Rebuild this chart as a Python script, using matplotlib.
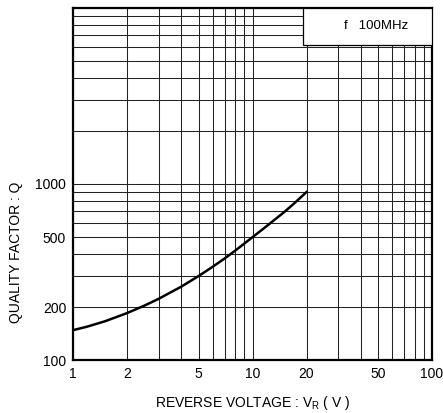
import matplotlib
matplotlib.use("Agg")
import matplotlib.pyplot as plt
from matplotlib.ticker import FixedLocator, NullFormatter, LogLocator
from matplotlib.patches import Rectangle

plt.rcParams['font.family'] = ['Liberation Sans', 'DejaVu Sans']

voltage = [1, 1.2, 1.5, 2, 2.5, 3, 4, 5, 6, 7, 8, 10, 12, 15, 17, 20]
q_factor = [148, 155, 166, 185, 204, 223, 261, 300, 339, 378, 418, 499, 577, 692, 773, 900]

x_ticks = [1, 2, 5, 10, 20, 50, 100]
x_ticklabels = ["1", "2", "5", "10", "20", "50", "100"]
y_ticks = [100, 200, 500, 1000]
y_ticklabels = ["100", "200", "500", "1000"]

fig = plt.figure(figsize=(4.43, 4.13), dpi=100)
ax = fig.add_axes([0.165, 0.128, 0.81, 0.853])
ax.set_xscale('log')
ax.set_yscale('log')
ax.set_xlim(1, 100)
ax.set_ylim(100, 10000)

ax.plot(voltage, q_factor, color='black', lw=1.8, zorder=5, solid_joinstyle='round')

ax.xaxis.set_major_locator(FixedLocator(x_ticks))
ax.set_xticklabels(x_ticklabels)
ax.xaxis.set_minor_locator(LogLocator(base=10, subs=range(1, 10)))
ax.xaxis.set_minor_formatter(NullFormatter())
ax.yaxis.set_major_locator(FixedLocator(y_ticks))
ax.set_yticklabels(y_ticklabels)
ax.yaxis.set_minor_locator(LogLocator(base=10, subs=range(1, 10)))
ax.yaxis.set_minor_formatter(NullFormatter())

ax.grid(True, which='both', color='#222222', lw=0.75)
ax.tick_params(which='both', length=0, labelsize=10, pad=5)
for s in ax.spines.values():
    s.set_linewidth(1.6)

ax.add_patch(Rectangle((0.64, 0.895), 0.36, 0.105, transform=ax.transAxes,
                       facecolor='white', edgecolor='black', lw=0.9, zorder=6))
ax.text(0.845, 0.948, "f   100MHz", transform=ax.transAxes, ha='center', va='center',
        fontsize=9.5, zorder=7)

ax.set_xlabel("REVERSE VOLTAGE : V$_{\\mathregular{R}}$ ( V )", fontsize=10, labelpad=9)
fig.text(0.035, 0.39, "QUALITY FACTOR : Q", rotation=90, ha='center', va='center', fontsize=10)

fig.savefig("out.png", dpi=100)
